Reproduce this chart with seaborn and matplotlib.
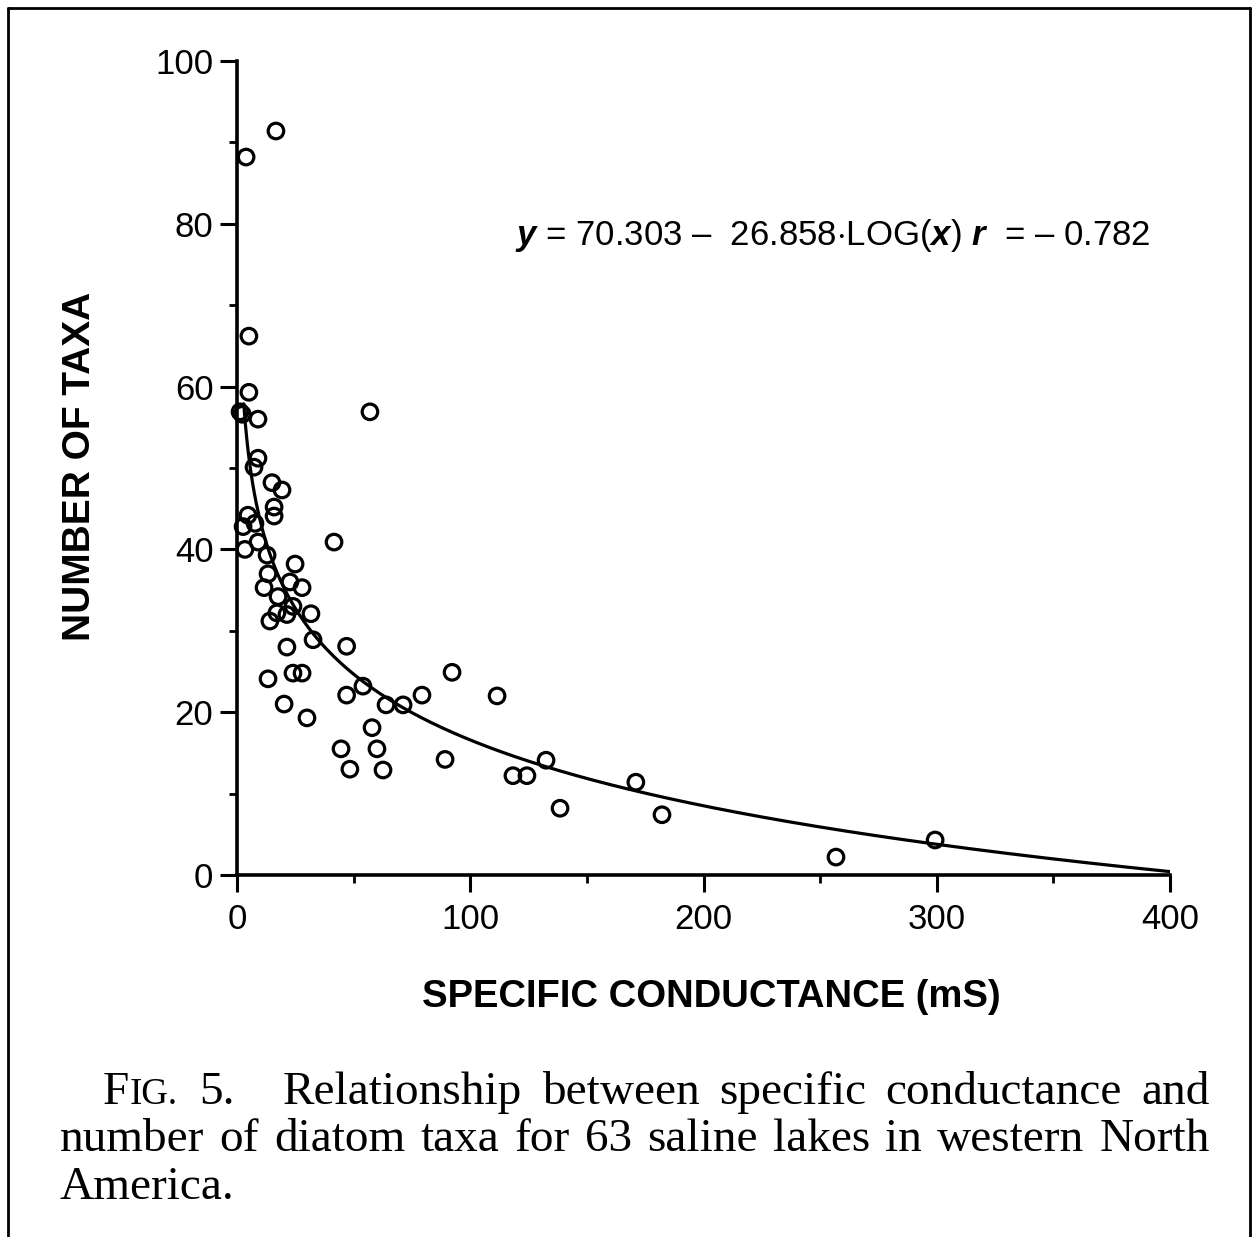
import numpy as np
import pandas as pd
import matplotlib
matplotlib.use("Agg")
import matplotlib.pyplot as plt
import seaborn as sns
from matplotlib.lines import Line2D

# ---------------- data ----------------
conductance = [16.7, 3.9, 5.1, 5.1, 1.3, 2.3, 9.0, 57.0, 9.0, 7.3,
               15.0, 19.3, 15.9, 15.9, 4.7, 7.7, 2.6, 9.0, 3.4, 41.6,
               12.9, 24.9, 13.3, 22.7, 27.9, 11.6, 17.6, 24.0, 31.7, 17.1,
               21.4, 14.1, 32.6, 21.4, 47.0, 13.3, 24.0, 27.9, 54.0, 47.0,
               20.2, 30.0, 57.9, 92.2, 79.3, 111.5, 63.9, 71.2, 44.6, 60.0,
               89.2, 48.4, 62.6, 118.3, 124.3, 132.5, 138.5, 171.0, 182.2, 256.8,
               299.3]
n_taxa = [91.4, 88.2, 66.2, 59.3, 56.9, 56.6, 56.0, 56.9, 51.2, 50.1,
          48.2, 47.3, 45.2, 44.1, 44.2, 43.2, 42.8, 40.9, 40.0, 40.9,
          39.3, 38.2, 37.0, 36.0, 35.3, 35.3, 34.2, 33.0, 32.1, 32.2,
          32.0, 31.2, 28.9, 28.0, 28.1, 24.1, 24.8, 24.8, 23.2, 22.1,
          21.0, 19.3, 18.1, 24.9, 22.1, 22.0, 20.9, 20.9, 15.5, 15.5,
          14.2, 13.0, 12.9, 12.2, 12.2, 14.1, 8.2, 11.4, 7.4, 2.2,
          4.3]

# regression printed on the chart
intercept = 70.303
slope = -26.858
fit_x = np.linspace(2.9, 400, 600)
fit_y = intercept + slope * np.log10(fit_x)

x_ticks = [0, 100, 200, 300, 400]
y_ticks = [0, 20, 40, 60, 80, 100]

equation_text = r"$\mathit{y}$ = 70.303 –  26.858$\cdot$LOG($\mathit{x}$) $\mathit{r}$  = – 0.782"
caption_label = "FIG. 5."
caption_lines = [
    "Relationship between specific conductance and",
    "number of diatom taxa for 63 saline lakes in western North",
    "America.",
]

df = pd.DataFrame({"cond": conductance, "taxa": n_taxa})
fit_df = pd.DataFrame({"x": fit_x, "y": fit_y})

# ---------------- styling ----------------
sns.set_theme(style="ticks")
plt.rcParams["font.family"] = ["Liberation Sans", "DejaVu Sans"]
plt.rcParams["text.color"] = "black"
plt.rcParams["mathtext.fontset"] = "custom"
plt.rcParams["mathtext.it"] = "Liberation Sans:italic:bold"
plt.rcParams["mathtext.rm"] = "Liberation Sans"

W, H = 1255, 1237
fig = plt.figure(figsize=(W / 100, H / 100), dpi=100)
fig.patch.set_facecolor("white")

left = 237 / W
right = 1170 / W
bottom = 1 - 875 / H
top = 1 - 61 / H
ax = fig.add_axes([left, bottom, right - left, top - bottom])
ax.set_facecolor("white")

sns.lineplot(data=fit_df, x="x", y="y", ax=ax, color="black", linewidth=2.3)
sns.scatterplot(data=df, x="cond", y="taxa", ax=ax, marker="o", s=125,
                facecolor="none", edgecolor="black", linewidth=2.3,
                clip_on=False, zorder=3)

ax.set_xlim(0, 400)
ax.set_ylim(0, 100)
ax.set_xticks(x_ticks)
ax.set_yticks(y_ticks)
ax.set_xticks(np.arange(0, 401, 50), minor=True)
ax.set_yticks(np.arange(0, 101, 10), minor=True)
ax.tick_params(axis="both", which="major", direction="out", length=12, width=2.2,
               labelsize=25, color="black", labelcolor="black")
ax.tick_params(axis="both", which="minor", direction="out", length=6, width=2.0,
               color="black")
ax.tick_params(axis="y", pad=5)
ax.tick_params(axis="x", pad=8)
sns.despine(ax=ax)
for side in ("left", "bottom"):
    ax.spines[side].set_linewidth(2.6)
    ax.spines[side].set_color("black")

ax.set_xlabel("")
ax.set_ylabel("")
fig.text(711 / W, 1 - 997 / H, "SPECIFIC CONDUCTANCE (mS)", ha="center",
         va="center", fontsize=27.5, fontweight="bold", color="black")
fig.text(80 / W, 1 - 466 / H, "NUMBER OF TAXA", ha="center", va="center",
         rotation=90, fontsize=28, fontweight="bold", color="black")

ax.text(515 / W, 1 - 236 / H, equation_text, transform=fig.transFigure,
        ha="left", va="center", fontsize=25, color="black")

# ---------------- caption (justified, serif) ----------------
serif = ["Liberation Serif", "DejaVu Serif"]
cap_size = 34
fig.canvas.draw()
renderer = fig.canvas.get_renderer()


def word_width(txt, size):
    t = fig.text(0, 0, txt, fontsize=size, family=serif)
    bb = t.get_window_extent(renderer=renderer)
    t.remove()
    return bb.width


def draw_line(tokens, x0, x1, ybase, justify=True):
    widths = [sum(word_width(s, sz) for s, sz in w) for w in tokens]
    total = sum(widths)
    if justify and len(tokens) > 1:
        gap = (x1 - x0 - total) / (len(tokens) - 1)
    else:
        gap = word_width(" ", cap_size)
    x = x0
    for w, wd in zip(tokens, widths):
        xx = x
        for s, sz in w:
            fig.text(xx / W, 1 - ybase / H, s, fontsize=sz, family=serif,
                     ha="left", va="baseline", color="black")
            xx += word_width(s, sz)
        x += wd + gap


# "FIG. 5." label with small caps
fig_word, num_word = caption_label.split()
label_tokens = [[(fig_word[0], cap_size), (fig_word[1:], cap_size * 0.78)],
                [(num_word, cap_size)]]
draw_line(label_tokens, 103, 235, 1104)
draw_line([[(w, cap_size)] for w in caption_lines[0].split()], 283, 1210, 1104)
draw_line([[(w, cap_size)] for w in caption_lines[1].split()], 60, 1210, 1151)
draw_line([[(w, cap_size)] for w in caption_lines[2].split()], 60, 1210, 1199,
          justify=False)

# ---------------- page frame ----------------
for (xs, ys) in [([8, 8], [8, H]), ([8, 1250], [8, 8]), ([1250, 1250], [8, H])]:
    fig.add_artist(Line2D([x / W for x in xs], [1 - y / H for y in ys],
                          color="black", linewidth=2.0))

fig.savefig("out.png", dpi=100, facecolor="white")
